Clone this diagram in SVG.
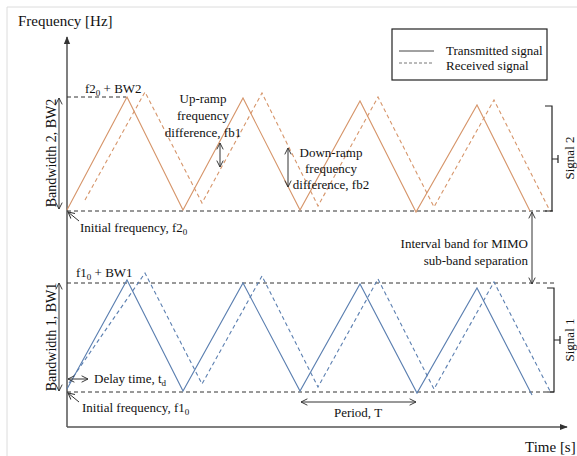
<svg xmlns="http://www.w3.org/2000/svg" width="577" height="456" viewBox="0 0 577 456" font-family="'Liberation Serif', 'Times New Roman', Times, 'DejaVu Serif', serif">
<style>
text{font-family:'Liberation Serif','Times New Roman',Times,'DejaVu Serif',serif;font-size:13px;fill:#111}
.big{font-size:15px}
.bw{font-size:14px}
.ax{stroke:#555;stroke-width:1.5;fill:none}
.dash{stroke:#333;stroke-width:1;stroke-dasharray:4,3;fill:none}
.o{stroke:#d6956a;stroke-width:1.1;fill:none}
.od{stroke:#d6956a;stroke-width:1.1;fill:none;stroke-dasharray:4,3}
.b{stroke:#5b7fb0;stroke-width:1.1;fill:none}
.bd{stroke:#5b7fb0;stroke-width:1.1;fill:none;stroke-dasharray:4,3}
.ar{stroke:#333;stroke-width:1;fill:none;marker-start:url(#oa);marker-end:url(#oa)}
.ar1{stroke:#333;stroke-width:1;fill:none;marker-end:url(#oa)}
.br{stroke:#222;stroke-width:1.2;fill:none}
</style>
<defs>
<marker id="oa" viewBox="0 0 10 10" refX="9" refY="5" markerWidth="8" markerHeight="8" markerUnits="userSpaceOnUse" orient="auto-start-reverse">
<path d="M1,1 L9,5 L1,9" fill="none" stroke="#333" stroke-width="1.2"/>
</marker>
<marker id="fa" viewBox="0 0 10 10" refX="9" refY="5" markerWidth="8" markerHeight="8" markerUnits="userSpaceOnUse" orient="auto">
<path d="M0,1 L10,5 L0,9 Z" fill="#333"/>
</marker>
</defs>
<rect width="577" height="456" fill="#fff"/>
<path d="M7,456 V7 H577" stroke="#dcdcdc" stroke-width="1" fill="none"/>

<g id="axes">
<line x1="67" y1="427" x2="67" y2="37" class="ax" marker-end="url(#fa)"/>
<line x1="67" y1="427" x2="567" y2="427" class="ax" marker-end="url(#fa)"/>
<text class="big" x="18" y="26">Frequency [Hz]</text>
<text class="big" x="525" y="452">Time [s]</text>
</g>

<g id="legend">
<rect x="392" y="29" width="155" height="51" fill="#fff" stroke="#222" stroke-width="1.2"/>
<line x1="399" y1="51" x2="434" y2="51" stroke="#444" stroke-width="1"/>
<line x1="399" y1="63" x2="434" y2="63" stroke="#777" stroke-width="1" stroke-dasharray="3,2"/>
<text x="446" y="55">Transmitted signal</text>
<text x="446" y="70">Received signal</text>
</g>

<g id="signal2">
<line x1="67" y1="97" x2="126" y2="97" class="dash"/>
<line x1="67" y1="211" x2="553" y2="211" class="dash"/>
<polyline class="o" points="67,210 127,97 183,210 243,98 300,210 360,101 416,212 477,105 530,211"/>
<polyline class="od" points="85,200 145,92 202,203 262,93 318,206 378,97 434,207 494,100 550,211"/>
<path class="br" d="M545,106 H552 V211 H545 M552,159 H558 M558,155 V163"/>
<text transform="translate(574,158) rotate(-90)" text-anchor="middle">Signal 2</text>
<line class="ar" x1="59" y1="98" x2="59" y2="209"/>
<text class="bw" transform="translate(56,153) rotate(-90)" text-anchor="middle">Bandwidth 2, BW2</text>
<text x="85" y="93">f2<tspan font-size="9" dy="3">0</tspan><tspan dy="-3"> + BW2</tspan></text>
<line class="ar1" x1="79" y1="221" x2="68" y2="212"/>
<text x="80" y="232">Initial frequency, f2<tspan font-size="9" dy="3">0</tspan></text>
<text x="203" y="103" text-anchor="middle">Up-ramp</text>
<text x="203" y="120" text-anchor="middle">frequency</text>
<text x="203" y="137" text-anchor="middle">difference, fb1</text>
<line class="ar" x1="220" y1="143" x2="220" y2="167"/>
<text x="331" y="157" text-anchor="middle">Down-ramp</text>
<text x="331" y="173" text-anchor="middle">frequency</text>
<text x="331" y="189" text-anchor="middle">difference, fb2</text>
<line class="ar" x1="288" y1="148" x2="288" y2="187"/>
</g>

<g id="interval">
<line class="ar" x1="532" y1="212" x2="532" y2="284"/>
<text x="528" y="248" text-anchor="end">Interval band for MIMO</text>
<text x="528" y="265" text-anchor="end">sub-band separation</text>
</g>

<g id="signal1">
<line x1="67" y1="283" x2="554" y2="283" class="dash"/>
<line x1="67" y1="392" x2="554" y2="392" class="dash"/>
<polyline class="b" points="67,389 127,280 183,391 243,283 300,391 360,284 417,393 477,288 532,395"/>
<polyline class="bd" points="69,383 145,273 202,384 262,276 318,387 378,279 434,389 494,282 550,391"/>
<path class="br" d="M547,288 H554 V392 H547 M554,340 H560 M560,336 V344"/>
<text transform="translate(574,340) rotate(-90)" text-anchor="middle">Signal 1</text>
<line class="ar" x1="59" y1="283" x2="59" y2="391"/>
<text class="bw" transform="translate(56,337) rotate(-90)" text-anchor="middle">Bandwidth 1, BW1</text>
<text x="76" y="277">f1<tspan font-size="9" dy="3">0</tspan><tspan dy="-3"> + BW1</tspan></text>
<line class="ar" x1="68" y1="379" x2="88" y2="379"/>
<text x="94" y="383">Delay time, t<tspan font-size="9" dy="3">d</tspan></text>
<line class="ar1" x1="79" y1="402" x2="68" y2="393"/>
<text x="82" y="412">Initial frequency, f1<tspan font-size="9" dy="3">0</tspan></text>
<line class="ar" x1="301" y1="402" x2="416" y2="402"/>
<text x="358" y="417" text-anchor="middle">Period, T</text>
</g>
</svg>
